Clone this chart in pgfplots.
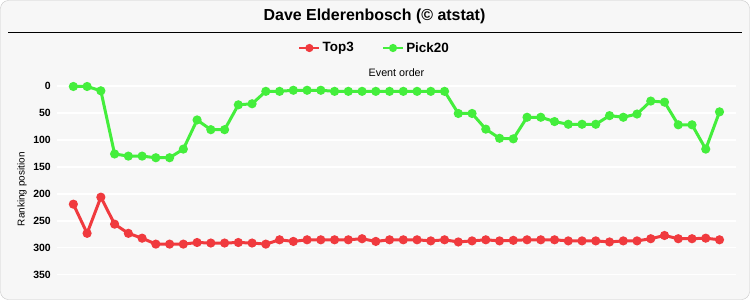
\documentclass[border=0pt]{standalone}
\usepackage{pgfplots}
\pgfplotsset{compat=1.18}
\usepackage{pgfplotstable}
\usepackage{fontspec}
\setmainfont{Liberation Sans}
\definecolor{tred}{HTML}{F03A3E}
\definecolor{tgreen}{HTML}{44EE3C}
\definecolor{bgc}{HTML}{F7F7F7}
\pgfplotstableread{
x top pick
0 219 1
1 273 1
2 206 9
3 256 126
4 273 130
5 282 130
6 293 133
7 293 133
8 293 117
9 290 63
10 291 81
11 291 81
12 290 35
13 291 33
14 293 10
15 285 10
16 288 8
17 285 8
18 285 8
19 285 10
20 285 10
21 283 10
22 288 10
23 285 10
24 285 10
25 285 10
26 287 10
27 285 10
28 289 51
29 287 51
30 285 80
31 287 97
32 286 98
33 285 58
34 285 58
35 285 66
36 287 71
37 287 71
38 287 71
39 289 55
40 287 58
41 287 52
42 283 28
43 277 30
44 283 72
45 283 72
46 282 117
47 285 48
}\datatable
\begin{document}
\begin{tikzpicture}
\fill[bgc, draw=black!22, rounded corners=8bp] (0.5bp,-0.5bp) rectangle (749.5bp,-299.5bp);
\node[font=\bfseries\fontsize{16}{18}\selectfont] at (374.5bp,-16.5bp) {Dave Elderenbosch (\textcopyright{} atstat)};
\draw[black, line width=1bp] (8bp,-32bp) -- (742bp,-32bp);
\begin{axis}[
  at={(57bp,-80bp)}, anchor=north west,
  scale only axis, width=679bp, height=210bp,
  xmin=-1.19, xmax=48.2, ymin=-11, ymax=378, y dir=reverse,
  axis line style={draw=none},
  xtick=\empty,
  ytick={0,50,...,350},
  ymajorgrids, grid style={white, line width=1.2bp},
  major tick length=0pt,
  /pgf/number format/assume math mode=true,
  yticklabel style={font=\bfseries\fontsize{10.5}{12}\selectfont, anchor=east, inner sep=0pt, xshift=-6bp},
  ylabel={Ranking position},
  ylabel style={font=\fontsize{10}{12}\selectfont, at={(axis description cs:-0.0515,0.48)}, anchor=center},
  title={Event order},
  title style={font=\fontsize{10.8}{12}\selectfont, at={(axis description cs:0.5,1)}, anchor=center, yshift=1bp},
  legend columns=2,
  legend style={draw=none, fill=none, at={(axis description cs:0.4676,1)}, anchor=center, yshift=32bp,
    font=\bfseries\fontsize{13.5}{15}\selectfont, /tikz/every even column/.append style={column sep=26bp}},
  legend image code/.code={\draw[#1, line width=2.5bp] (0bp,0bp) -- (20bp,0bp); \draw[#1, only marks, mark size=2.5bp] plot coordinates {(10bp,0bp)};},
  every axis plot/.append style={line width=3bp, mark=*, mark size=3bp, mark options={solid}},
]
\addplot[tred] table[x=x, y=top] {\datatable};
\addlegendentry{Top3}
\addplot[tgreen] table[x=x, y=pick] {\datatable};
\addlegendentry{Pick20}
\end{axis}
\pgfresetboundingbox
\useasboundingbox (0,0) rectangle (750bp,-300bp);
\end{tikzpicture}
\end{document}
